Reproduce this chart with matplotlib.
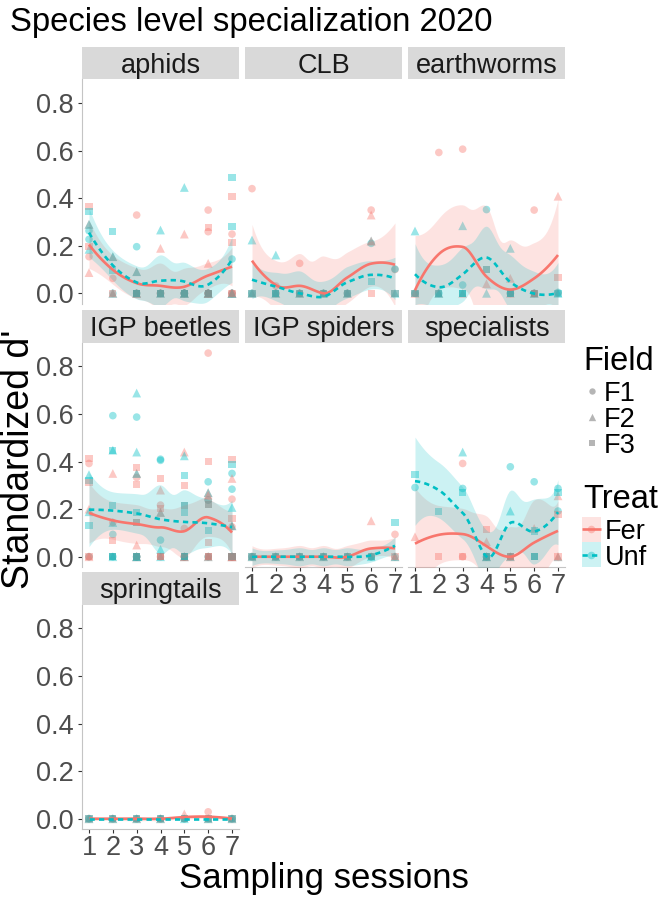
import numpy as np
import matplotlib
matplotlib.use("Agg")
import matplotlib.pyplot as plt
from matplotlib.patches import Rectangle
from matplotlib.colors import to_rgba

plt.rcParams['font.family'] = ['Liberation Sans', 'DejaVu Sans']

# ---------------- data ----------------
sessions = [1, 2, 3, 4, 5, 6, 7]
groups = ["aphids", "CLB", "earthworms", "IGP beetles", "IGP spiders",
          "specialists", "springtails"]
fields = ["F1", "F2", "F3"]
treats = ["Fer", "Unf"]
y_ticks = [0.0, 0.2, 0.4, 0.6, 0.8]
y_tick_labels = ["0.0", "0.2", "0.4", "0.6", "0.8"]

# one row per sampling session: (F1 values, F2 values, F3 values)
aphids_Fer = [
    ([0.154], [0.29, 0.087], [0.364, 0.195]),
    ([0.063], [0.154, 0.0], [0.0]),
    ([0.329, 0.0], [0.091, 0.0, 0.0], [0.0, 0.0, 0.0]),
    ([0.0, 0.0], [0.189, 0.0], [0.0, 0.0]),
    ([0.0, 0.0, 0.0], [0.249, 0.0, 0.0], [0.0, 0.0, 0.0]),
    ([0.35, 0.259, 0.0, 0.0, 0.0], [0.126, 0.0, 0.0, 0.0], [0.277, 0.0, 0.0]),
    ([0.249, 0.0, 0.0], [0.0, 0.0], [0.406, 0.214, 0.0]),
]
aphids_Unf = [
    ([0.263, 0.227], [0.29, 0.185], [0.343]),
    ([0.0], [0.154, 0.0], [0.259, 0.098]),
    ([0.196, 0.0], [0.091, 0.0], [0.0, 0.0, 0.0]),
    ([0.0], [0.266, 0.0], [0.0, 0.0]),
    ([0.0, 0.0, 0.0], [0.445, 0.0, 0.0], [0.0, 0.0, 0.0]),
    ([0.0, 0.0], [0.0, 0.0], [0.0, 0.0]),
    ([0.144, 0.0], [0.0, 0.0], [0.487, 0.28]),
]
CLB_Fer = [
    ([0.44], [0.0], [0.0]),
    ([0.031, 0.0], [0.0], [0.0]),
    ([0.126, 0.0], [0.0], [0.0]),
    ([0.0], [0.0], [0.0]),
    ([0.0], [0.0], [0.0]),
    ([0.35], [0.329, 0.22], [0.0]),
    ([0.1], [], [0.0]),
]
CLB_Unf = [
    ([0.0], [0.224, 0.0], [0.0]),
    ([0.0], [0.161, 0.0], [0.0, 0.0]),
    ([0.0], [0.0], [0.0]),
    ([0.0], [0.0], [0.0]),
    ([0.0], [0.0], [0.0]),
    ([0.21], [0.22], [0.049]),
    ([0.102], [0.0], [0.0]),
]
earthworms_Fer = [
    ([0.0], [0.0], [0.0]),
    ([0.592], [0.0], [0.0]),
    ([0.606], [0.0], [0.0]),
    ([], [0.04], [0.1]),
    ([0.0], [0.063, 0.0], [0.0]),
    ([0.35, 0.0], [0.0], [0.0, 0.0]),
    ([0.0], [0.408], [0.066]),
]
earthworms_Unf = [
    ([0.0], [0.262], [0.0]),
    ([0.0], [0.0], [0.0]),
    ([0.035], [0.284], [0.0, 0.0]),
    ([0.352], [0.0], [0.1]),
    ([0.0], [0.189], [0.0, 0.0]),
    ([0.0], [0.0], [0.0]),
    ([0.004], [0.0], [0.0]),
]
IGP_beetles_Fer = [
    ([0.392, 0.0], [0.2, 0.0], [0.413, 0.312, 0.0]),
    ([0.144], [0.35], [0.067, 0.0]),
    ([0.333, 0.0, 0.0], [0.35, 0.049, 0.0, 0.0], [0.375, 0.305, 0.144, 0.0, 0.0]),
    ([0.217, 0.0], [0.28, 0.186], [0.329, 0.203, 0.0, 0.0]),
    ([0.119, 0.0, 0.0], [0.44, 0.0, 0.0], [0.298, 0.217, 0.0, 0.0]),
    ([0.856, 0.238, 0.0], [0.269, 0.259, 0.0], [0.401, 0.22, 0.059, 0.0, 0.0]),
    ([0.242, 0.126, 0.0, 0.0, 0.0], [0.329, 0.13, 0.0, 0.0, 0.0], [0.41, 0.161, 0.0, 0.0, 0.0]),
]
IGP_beetles_Unf = [
    ([0.0], [0.345, 0.189], [0.322, 0.13]),
    ([0.593, 0.094, 0.0], [0.448, 0.144, 0.0], [0.445, 0.217, 0.0, 0.0]),
    ([0.587, 0.0, 0.0], [0.688, 0.44, 0.35, 0.0, 0.0], [0.186, 0.144, 0.0, 0.0, 0.0]),
    ([0.41, 0.405, 0.07], [0.186, 0.031, 0.0], [0.0]),
    ([0.0], [0.424, 0.0], [0.343, 0.217, 0.186, 0.0, 0.0]),
    ([0.315, 0.238, 0.0], [0.269, 0.0], [0.22, 0.109, 0.0]),
    ([0.35, 0.284, 0.0, 0.0], [0.207, 0.13, 0.0], [0.389, 0.0, 0.0, 0.0]),
]
IGP_spiders_Fer = [
    ([0.0], [0.0], [0.0]),
    ([0.0], [0.0], [0.0]),
    ([0.0], [0.0], [0.0]),
    ([0.0], [0.0], [0.0]),
    ([0.0], [0.0], [0.0]),
    ([0.0], [0.151], [0.0]),
    ([0.094], [0.0], [0.0]),
]
IGP_spiders_Unf = [
    ([0.0], [0.0], [0.0]),
    ([0.0], [0.0], [0.0]),
    ([0.0], [0.0], [0.0]),
    ([0.0], [0.0], [0.0]),
    ([0.0], [0.0], [0.0]),
    ([0.0], [0.0], [0.0]),
    ([0.0], [0.0], [0.144]),
]
specialists_Fer = [
    ([], [0.084], []),
    ([], [], [0.0]),
    ([0.392, 0.0], [], [0.0]),
    ([], [0.063, 0.0], [0.115, 0.0]),
    ([0.0], [0.0], [0.0, 0.0]),
    ([], [0.119], [0.0]),
    ([], [0.256, 0.0], [0.179, 0.0]),
]
specialists_Unf = [
    ([0.291], [], [0.345]),
    ([], [], [0.189]),
    ([0.287], [0.44], [0.269]),
    ([0.0, 0.0], [0.0, 0.0], [0.0, 0.0]),
    ([0.378], [0.192, 0.0], [0.0]),
    ([0.315], [], [0.108, 0.0, 0.0]),
    ([0.287, 0.192], [0.0], [0.27]),
]
springtails_Fer = [
    ([0.0], [0.0], [0.0]),
    ([0.0], [0.0], [0.0]),
    ([0.0], [0.0], [0.0]),
    ([0.0], [0.0], [0.0]),
    ([0.0], [0.02], [0.0]),
    ([0.029], [0.0], [0.0]),
    ([0.0], [0.0], [0.0]),
]
springtails_Unf = [
    ([0.0], [0.0], [0.0]),
    ([0.0], [0.0], [0.0]),
    ([0.0], [0.0], [0.0]),
    ([0.0], [0.0], [0.0]),
    ([0.0], [0.0], [0.0]),
    ([0.0], [0.0], [0.0]),
    ([0.0], [0.0], [0.0]),
]

panel_tables = {
    "aphids": (aphids_Fer, aphids_Unf),
    "CLB": (CLB_Fer, CLB_Unf),
    "earthworms": (earthworms_Fer, earthworms_Unf),
    "IGP beetles": (IGP_beetles_Fer, IGP_beetles_Unf),
    "IGP spiders": (IGP_spiders_Fer, IGP_spiders_Unf),
    "specialists": (specialists_Fer, specialists_Unf),
    "springtails": (springtails_Fer, springtails_Unf),
}

# ---------------- styling ----------------
treat_colors = {"Fer": "#F8766D", "Unf": "#00BFC4"}
treat_ls = {"Fer": "-", "Unf": (0, (2.0, 1.6))}
field_markers = {"F1": "o", "F2": "^", "F3": "s"}
field_sizes = {"F1": 30, "F2": 40, "F3": 26}
PT_ALPHA = 0.4
RIB_ALPHA = 0.2
LINE_W = 1.9


def long_format(table):
    xs, ys = [], []
    for s, row in zip(sessions, table):
        for vals in row:
            for v in vals:
                xs.append(s)
                ys.append(v)
    return np.array(xs, float), np.array(ys, float)


def interleaved_points(tables):
    pts = []
    for si, s in enumerate(sessions):
        for fi, f in enumerate(fields):
            a = tables[0][si][fi]
            b = tables[1][si][fi]
            for k in range(max(len(a), len(b))):
                if k < len(a):
                    pts.append((s, a[k], f, "Fer"))
                if k < len(b):
                    pts.append((s, b[k], f, "Unf"))
    return pts


def t975(df):
    z = 1.959963985
    g1 = (z**3 + z) / 4
    g2 = (5 * z**5 + 16 * z**3 + 3 * z) / 96
    g3 = (3 * z**7 + 19 * z**5 + 17 * z**3 - 15 * z) / 384
    g4 = (79 * z**9 + 776 * z**7 + 1482 * z**5 - 1920 * z**3 - 945 * z) / 92160
    df = max(df, 1.5)
    return z + g1 / df + g2 / df**2 + g3 / df**3 + g4 / df**4


def loess(x, y, xg, span=0.75, cell=0.2):
    """Local quadratic loess with kd-tree vertices and cubic Hermite
    interpolation between them (as R's default surface='interpolate')."""
    n = len(x)
    q = max(int(np.floor(n * span)), 1)

    def local(x0):
        d = np.abs(x - x0)
        D = max(np.sort(d)[q - 1], 1e-9)
        u = np.minimum(d / D, 1.0)
        w = (1 - u**3)**3
        X = np.column_stack([np.ones(n), x - x0, (x - x0)**2])
        XtW = X.T * w
        M = np.linalg.pinv(XtW @ X) @ XtW
        return M[0], M[1]

    xs = np.sort(x)
    lo_b, hi_b = xs[0], xs[-1]
    mu = 0.005 * max(hi_b - lo_b, 1e-10 * max(abs(lo_b), abs(hi_b)) + 1e-30)
    verts = {lo_b - mu, hi_b + mu}
    fc = int(np.floor(n * span * cell))
    stack = [(0, n - 1, lo_b - mu, hi_b + mu)]
    while stack:
        l, u, vl, vh = stack.pop()
        if u - l + 1 <= fc:
            continue
        m = (l + u) // 2
        off = 0
        while True:
            if m + off >= u or m + off < l:
                break
            if xs[m + off] == xs[m + off + 1]:
                off = -off
                if off >= 0:
                    off += 1
            else:
                m = m + off
                break
        t = xs[m]
        if t == vl or t == vh:
            continue
        verts.add(t)
        stack.append((l, m, vl, t))
        stack.append((m + 1, u, t, vh))
    V = np.array(sorted(verts))
    rows = [local(v) for v in V]

    def op(xv):
        j = int(np.clip(np.searchsorted(V, xv, side="right") - 1, 0, len(V) - 2))
        v0, v1 = V[j], V[j + 1]
        h = v1 - v0
        t = (xv - v0) / h
        h00 = 2 * t**3 - 3 * t**2 + 1
        h10 = t**3 - 2 * t**2 + t
        h01 = -2 * t**3 + 3 * t**2
        h11 = t**3 - t**2
        return (h00 * rows[j][0] + h10 * h * rows[j][1]
                + h01 * rows[j + 1][0] + h11 * h * rows[j + 1][1])

    Lg = np.array([op(v) for v in xg])
    Ld = np.array([op(v) for v in x])
    fit = Lg @ y
    R = np.eye(n) - Ld
    RtR = R.T @ R
    d1 = np.trace(RtR)
    d2 = np.trace(RtR @ RtR)
    rss = float(np.sum((R @ y)**2))
    sigma = np.sqrt(rss / d1) if d1 > 0 else 0.0
    se = sigma * np.sqrt(np.sum(Lg**2, axis=1))
    df = d1**2 / d2 if d2 > 0 else 1e6
    t = t975(df)
    return fit, fit - t * se, fit + t * se


# ---------------- layout (pixels) ----------------
W, H = 665, 897
fig = plt.figure(figsize=(W / 100, H / 100), dpi=100)

col_left = [81.85, 244.85, 407.85]
panel_w = 157.3
row_top = [79.5, 342.9, 604.9]
panel_h = 224.0
strip_h = 33.0
YLIM = (-0.0428, 0.8988)
XLIM = (0.7, 7.3)
bottom_panels = {"IGP spiders", "specialists", "springtails"}


def add_px_axes(x, y_top, w, h, **kw):
    return fig.add_axes([x / W, 1 - (y_top + h) / H, w / W, h / H], **kw)


xg = np.linspace(1, 7, 80)

for i, g in enumerate(groups):
    r, c = divmod(i, 3)
    ax = add_px_axes(col_left[c], row_top[r], panel_w, panel_h)
    ax.set_xlim(*XLIM)
    ax.set_ylim(*YLIM)
    ax.set_facecolor("white")
    for sp in ax.spines.values():
        sp.set_visible(False)

    tables = panel_tables[g]
    pts = interleaved_points(tables)
    for f in fields:
        sel = [p for p in pts if p[2] == f]
        if sel:
            ax.scatter([p[0] for p in sel], [p[1] for p in sel],
                       marker=field_markers[f], s=field_sizes[f],
                       c=[to_rgba(treat_colors[p[3]], PT_ALPHA) for p in sel],
                       linewidths=0, zorder=2)
    for t, table in zip(treats, tables):
        xs, ys = long_format(table)
        fit, lo, hi = loess(xs, ys, xg)
        ax.fill_between(xg, lo, hi, color=treat_colors[t], alpha=RIB_ALPHA,
                        linewidth=0, zorder=3)
        ax.plot(xg, fit, color=treat_colors[t], lw=LINE_W, ls=treat_ls[t],
                zorder=4, solid_capstyle="butt", dash_capstyle="butt")

    ax.set_xticks(sessions)
    ax.set_yticks(y_ticks)
    ax.tick_params(axis="both", colors="#333333", labelcolor="#4D4D4D",
                   labelsize=19.5, length=2.75, width=0.8)
    ax.tick_params(axis="y", pad=3.2)
    ax.tick_params(axis="x", pad=1.8)
    if c == 0:
        ax.spines["left"].set_visible(True)
        ax.spines["left"].set_color("#C4C4C4")
        ax.spines["left"].set_linewidth(0.8)
        ax.set_yticklabels(y_tick_labels)
    else:
        ax.tick_params(axis="y", left=False, labelleft=False)
    if g in bottom_panels:
        ax.spines["bottom"].set_visible(True)
        ax.spines["bottom"].set_color("#C4C4C4")
        ax.spines["bottom"].set_linewidth(0.8)
        ax.set_xticklabels([str(s) for s in sessions])
    else:
        ax.tick_params(axis="x", bottom=False, labelbottom=False)

    sax = add_px_axes(col_left[c], row_top[r] - strip_h, panel_w, strip_h)
    sax.set_facecolor("#D9D9D9")
    sax.set_xticks([])
    sax.set_yticks([])
    for sp in sax.spines.values():
        sp.set_visible(False)
    sax.text(0.5, 0.205, g, ha="center", va="baseline", fontsize=19.5,
             color="#1A1A1A", transform=sax.transAxes)

# titles
fig.text(10 / W, 1 - 31 / H, "Species level specialization 2020", fontsize=23.7,
         ha="left", va="baseline", color="black")
fig.text(323.5 / W, 1 - 888 / H, "Sampling sessions", fontsize=25,
         ha="center", va="baseline", color="black")
fig.text(1.0 / W, 1 - 459 / H, "Standardized d'", fontsize=27, rotation=90,
         ha="left", va="center", color="black")

# ---------------- legends (pixel coordinate overlay) ----------------
lax = fig.add_axes([0, 0, 1, 1], zorder=-1)
lax.set_xlim(0, W)
lax.set_ylim(H, 0)
lax.axis("off")

lax.text(583, 370, "Field", fontsize=23.5, ha="left", va="baseline")
field_key_y = [391.5, 417.5, 443.5]
for f, yk in zip(fields, field_key_y):
    lax.scatter([591.5], [yk], marker=field_markers[f], s=field_sizes[f] * 0.7,
                color="#B5B5B5", linewidths=0)
    lax.text(603.5, yk + 9.7, f, fontsize=19.5, ha="left", va="baseline")

lax.text(583, 507.5, "Treat", fontsize=23.5, ha="left", va="baseline")
treat_key_y = [529.5, 555.0]
for t, yk in zip(treats, treat_key_y):
    lax.add_patch(Rectangle((582, yk - 12.5), 18.5, 25, facecolor=treat_colors[t],
                            alpha=RIB_ALPHA, linewidth=0))
    lax.plot([582, 600.5], [yk, yk], color=treat_colors[t], lw=LINE_W,
             ls=treat_ls[t], solid_capstyle="butt", dash_capstyle="butt")
    lax.scatter([591.25], [yk], marker="o", s=field_sizes["F1"],
                color=treat_colors[t], alpha=PT_ALPHA, linewidths=0)
    lax.text(604.5, yk + 9.7, t, fontsize=19.5, ha="left", va="baseline")

fig.savefig("out.png", dpi=100)
